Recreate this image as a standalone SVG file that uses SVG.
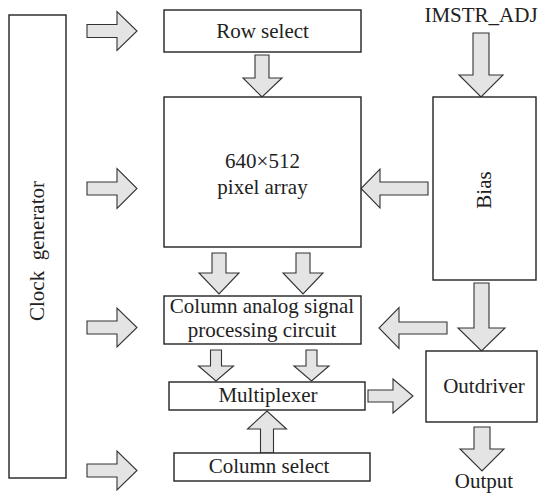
<svg xmlns="http://www.w3.org/2000/svg" width="538" height="493" viewBox="0 0 538 493">
<style>
.box{fill:#fff;stroke:#222;stroke-width:1.4}
.arr{fill:#e4e4e4;stroke:#333;stroke-width:1.1;stroke-linejoin:miter}
text{font-family:"Liberation Serif","Times New Roman",serif;font-size:21px;fill:#222;text-anchor:middle}
</style>
<rect width="538" height="493" fill="#fff"/>
<g id="connectors">
<polygon class="arr" points="87,24.5 117,24.5 117,11.5 137,31 117,50.5 117,37.5 87,37.5"/>
<polygon class="arr" points="87,182 117,182 117,168.5 137,188.5 117,208.5 117,195 87,195"/>
<polygon class="arr" points="87,321 117,321 117,308 137,327.5 117,347 117,334 87,334"/>
<polygon class="arr" points="87,464 117,464 117,451 137,470.5 117,490 117,477 87,477"/>
<polygon class="arr" points="255,55 269,55 269,78 282,78 262,97 243,78 255,78"/>
<polygon class="arr" points="473,33 489,33 489,75 503,75 481,97 459,75 473,75"/>
<polygon class="arr" points="428,182 380,182 380,169 361,188.5 380,208 380,195 428,195"/>
<polygon class="arr" points="212,253 226,253 226,273 239,273 219,294 199,273 212,273"/>
<polygon class="arr" points="296,253 310,253 310,273 323,273 303,294 283,273 296,273"/>
<polygon class="arr" points="447,322 399,322 399,307.5 379,328 399,348.5 399,334 447,334"/>
<polygon class="arr" points="474,283 489,283 489,328 505,328 481.5,351 458,328 474,328"/>
<polygon class="arr" points="210.5,350 221.5,350 221.5,366 233.5,366 216,381 198.5,366 210.5,366"/>
<polygon class="arr" points="306,350 317,350 317,366 329,366 311.5,381 294,366 306,366"/>
<polygon class="arr" points="368,390 393,390 393,379 413,396 393,413 393,402 368,402"/>
<polygon class="arr" points="260.5,453 273.5,453 273.5,429 286.5,429 267,411 247.5,429 260.5,429"/>
<polygon class="arr" points="474,427 490,427 490,449 504,449 482,471 460,449 474,449"/>
</g>
<g id="clock">
<rect class="box" x="9" y="15" width="57" height="463"/>
<text transform="translate(44,251) rotate(-90)" xml:space="preserve" style="white-space:pre">Clock  generator</text>
</g>
<g id="row-select">
<rect class="box" x="164" y="10" width="197" height="42"/>
<text x="262.5" y="38">Row select</text>
</g>
<g id="pixel-array">
<rect class="box" x="164" y="97" width="197" height="150"/>
<text x="262.5" y="168">640×512</text>
<text x="262.5" y="194">pixel array</text>
</g>
<g id="imstr">
<text x="481" y="22">IMSTR_ADJ</text>
</g>
<g id="bias">
<rect class="box" x="433" y="97" width="103" height="183"/>
<text transform="translate(491,190) rotate(-90)">Bias</text>
</g>
<g id="column-analog">
<rect class="box" x="164" y="296" width="197" height="48"/>
<text x="262" y="313">Column analog signal</text>
<text x="262" y="337">processing circuit</text>
</g>
<g id="multiplexer">
<rect class="box" x="169" y="382" width="196" height="28"/>
<text x="268" y="402">Multiplexer</text>
</g>
<g id="column-select">
<rect class="box" x="174" y="453" width="196" height="28"/>
<text x="269" y="473">Column select</text>
</g>
<g id="outdriver">
<rect class="box" x="426" y="351" width="111" height="71"/>
<text x="484" y="393">Outdriver</text>
</g>
<g id="output">
<text x="484" y="488">Output</text>
</g>
</svg>
